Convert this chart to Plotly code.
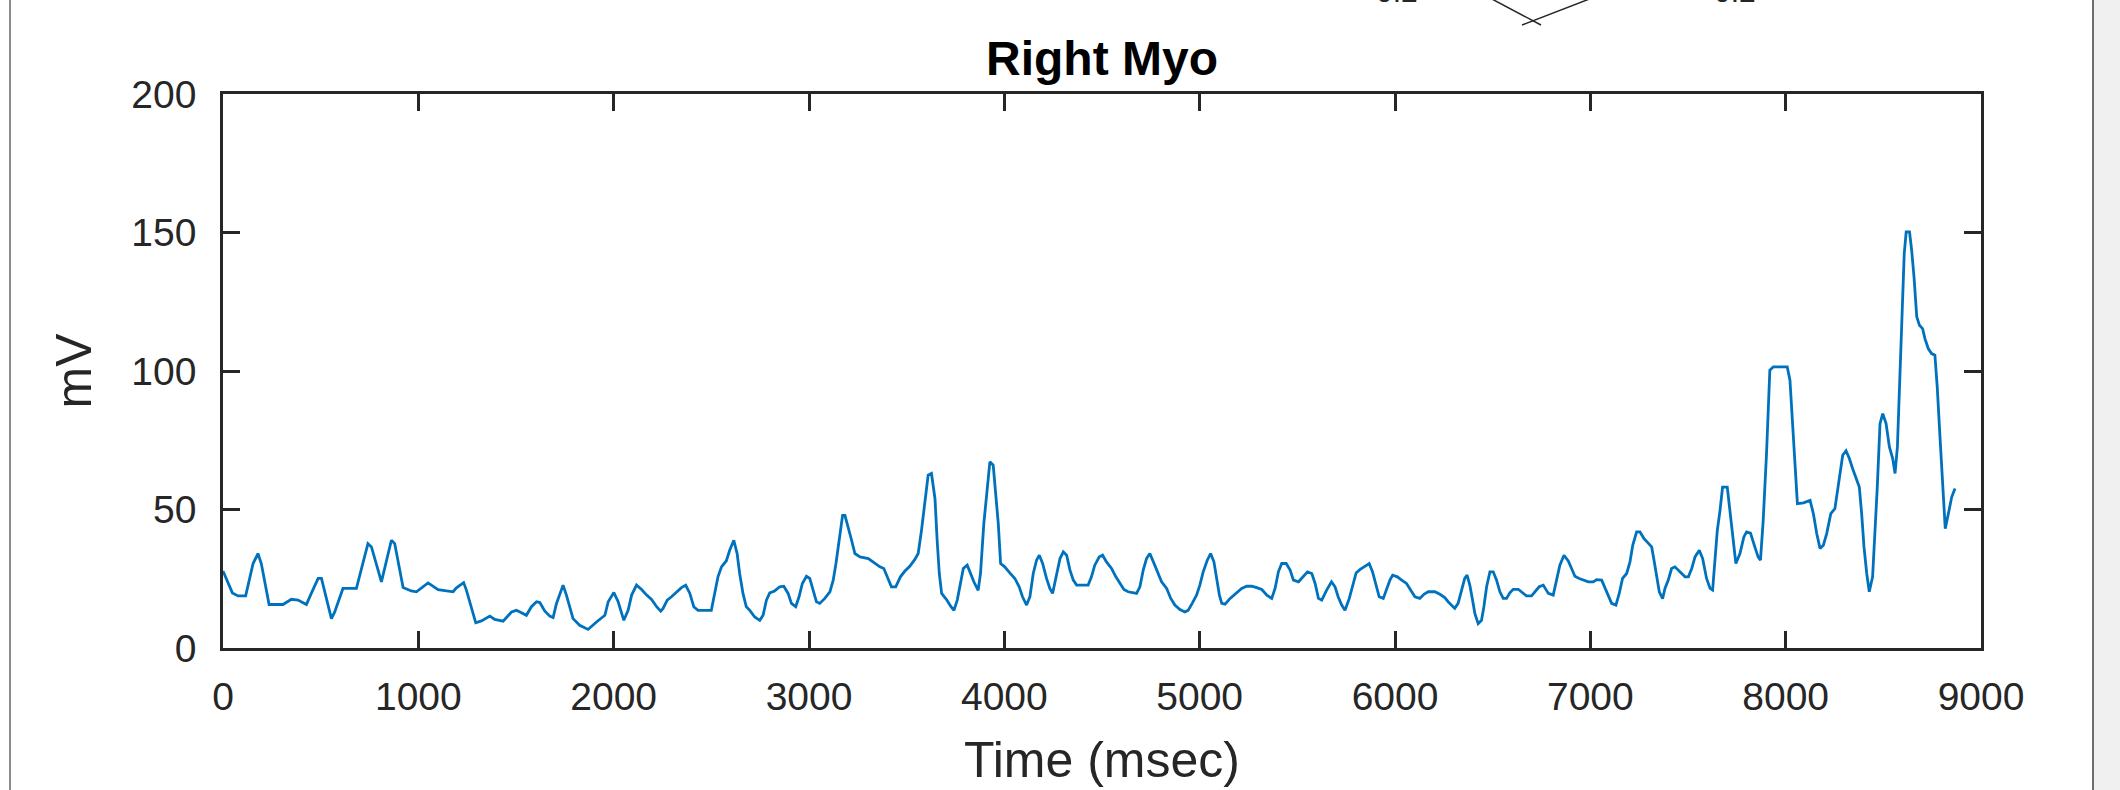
import plotly.graph_objects as go

# ---- data (time in msec, amplitude in mV) ----
time_ms = [
    0, 48, 77, 116, 154, 179, 196, 236, 307, 350, 384, 427, 452, 487, 504, 555, 572, 614, 683, 742,
    760, 811, 862, 879, 922, 964, 990, 1050, 1101, 1178, 1195, 1215, 1232, 1246, 1266, 1280, 1294, 1323,
    1366, 1391, 1434, 1477, 1502, 1528, 1553, 1579, 1605, 1622, 1647, 1673, 1690, 1707, 1721, 1741,
    1758, 1775, 1792, 1826, 1869, 1912, 1955, 1972, 2001, 2023, 2052, 2074, 2092, 2117, 2143, 2169,
    2194, 2220, 2241, 2253, 2274, 2296, 2322, 2347, 2369, 2390, 2410, 2432, 2500, 2517, 2534, 2552,
    2577, 2594, 2615, 2632, 2645, 2662, 2679, 2697, 2722, 2748, 2765, 2782, 2799, 2824, 2850, 2871,
    2893, 2910, 2932, 2949, 2966, 2987, 3004, 3021, 3038, 3055, 3081, 3107, 3124, 3138, 3155, 3172,
    3184, 3201, 3218, 3235, 3261, 3304, 3338, 3363, 3383, 3405, 3422, 3444, 3468, 3490, 3516, 3541,
    3559, 3576, 3593, 3610, 3627, 3645, 3656, 3667, 3679, 3704, 3725, 3742, 3759, 3772, 3790, 3810,
    3827, 3844, 3866, 3878, 3895, 3912, 3926, 3943, 3957, 3969, 3981, 4002, 4028, 4054, 4076, 4093,
    4114, 4131, 4148, 4165, 4179, 4196, 4216, 4233, 4247, 4264, 4285, 4302, 4319, 4336, 4353, 4370,
    4429, 4446, 4463, 4486, 4503, 4523, 4549, 4571, 4592, 4612, 4634, 4677, 4694, 4711, 4728, 4745,
    4763, 4783, 4805, 4831, 4852, 4873, 4899, 4924, 4941, 4963, 4984, 5001, 5018, 5039, 5056, 5073,
    5087, 5101, 5113, 5130, 5156, 5190, 5215, 5241, 5267, 5292, 5318, 5344, 5369, 5386, 5403, 5420,
    5443, 5463, 5480, 5506, 5531, 5552, 5574, 5591, 5608, 5625, 5650, 5675, 5693, 5709, 5727, 5744,
    5766, 5783, 5801, 5820, 5846, 5868, 5885, 5902, 5919, 5940, 5957, 5974, 5988, 6012, 6034, 6059,
    6080, 6102, 6127, 6148, 6170, 6204, 6230, 6255, 6272, 6289, 6306, 6323, 6340, 6357, 6369, 6383,
    6397, 6409, 6426, 6443, 6455, 6469, 6486, 6503, 6520, 6537, 6554, 6571, 6588, 6605, 6631, 6648,
    6673, 6699, 6716, 6738, 6759, 6785, 6810, 6827, 6844, 6865, 6887, 6904, 6921, 6943, 6964, 6990,
    7015, 7032, 7058, 7075, 7092, 7109, 7131, 7148, 7165, 7186, 7203, 7217, 7237, 7254, 7275, 7297,
    7314, 7326, 7340, 7353, 7370, 7382, 7399, 7416, 7433, 7459, 7485, 7502, 7519, 7536, 7558, 7575,
    7595, 7613, 7626, 7638, 7650, 7664, 7677, 7701, 7715, 7728, 7745, 7766, 7786, 7800, 7820, 7842,
    7859, 7871, 7885, 7902, 7919, 7937, 8008, 8022, 8036, 8048, 8060, 8091, 8125, 8142, 8159, 8176,
    8193, 8210, 8231, 8252, 8269, 8292, 8309, 8326, 8343, 8363, 8377, 8389, 8401, 8415, 8428, 8445,
    8457, 8469, 8483, 8497, 8514, 8531, 8548, 8560, 8572, 8583, 8595, 8607, 8617, 8634, 8645, 8657,
    8671, 8685, 8701, 8713, 8730, 8747, 8764, 8776, 8790, 8804, 8817, 8833, 8850, 8867,
]
amplitude_mv = [
    27.8, 19.9, 18.8, 18.8, 30.5, 34.1, 30.5, 15.7, 15.7, 17.6, 17.3, 15.7, 19.7, 25.1, 25.1, 10.6, 13.0, 21.5, 21.5, 37.7,
    36.5, 23.9, 38.9, 37.7, 21.8, 20.6, 20.3, 23.5, 21.1, 20.3, 21.7, 22.7, 23.6, 20.9, 16.3, 13.0, 9.1, 9.8,
    11.5, 10.3, 9.7, 13.0, 13.6, 12.7, 11.8, 14.9, 16.7, 16.4, 13.4, 11.5, 11.0, 16.0, 18.7, 22.7,
    19.1, 14.9, 10.6, 8.2, 6.7, 9.4, 11.8, 16.7, 20.0, 16.7, 10.0, 13.6, 19.1, 22.7, 21.1, 19.1,
    17.5, 14.9, 13.3, 14.3, 17.3, 18.5, 20.3, 21.8, 22.7, 19.7, 14.9, 13.6, 13.6, 19.7, 25.7, 29.3,
    31.5, 35.3, 38.9, 34.1, 26.9, 19.7, 14.9, 13.6, 11.2, 10.0, 11.8, 17.3, 19.9, 20.6, 22.1, 22.3,
    19.7, 16.1, 14.9, 18.5, 23.3, 25.9, 25.1, 20.9, 16.7, 16.1, 17.9, 20.3, 24.5, 30.5, 38.9, 47.9,
    47.9, 43.7, 38.9, 34.1, 32.9, 32.3, 30.7, 29.3, 28.7, 24.7, 22.1, 22.1, 25.7, 27.7, 29.5, 31.9,
    34.1, 42.5, 52.1, 62.4, 63.0, 53.9, 38.9, 26.9, 19.7, 17.5, 15.1, 13.6, 17.3, 22.7, 28.7, 29.9,
    26.9, 23.9, 20.8, 26.9, 44.9, 58.2, 67.2, 66.0, 55.7, 44.9, 30.5, 29.3, 27.1, 25.1, 22.1, 18.5,
    15.5, 18.5, 26.9, 31.7, 33.5, 30.5, 25.1, 21.5, 19.7, 25.7, 32.3, 34.7, 33.5, 28.1, 24.5, 22.7,
    22.7, 25.7, 29.9, 32.9, 33.5, 31.1, 28.7, 25.7, 23.3, 21.1, 20.3, 19.7, 22.1, 28.1, 32.3, 34.1,
    31.1, 27.5, 23.9, 21.5, 17.9, 15.5, 13.9, 13.0, 13.6, 16.3, 19.1, 22.7, 27.5, 31.7, 34.1, 31.1,
    25.7, 19.1, 16.1, 15.8, 17.9, 19.9, 21.5, 22.3, 22.3, 21.8, 21.1, 19.1, 17.9, 21.5, 27.5, 30.5,
    30.5, 28.1, 24.5, 23.9, 25.9, 27.5, 26.9, 23.3, 17.9, 17.3, 20.9, 23.9, 22.1, 18.5, 15.5, 13.6,
    17.9, 22.7, 27.1, 28.3, 29.5, 30.5, 27.5, 22.7, 18.5, 17.9, 21.5, 24.5, 26.3, 25.7, 24.5, 23.3,
    20.9, 18.5, 17.9, 19.4, 20.3, 20.3, 19.4, 18.2, 16.7, 15.5, 14.3, 16.1, 20.3, 25.1, 26.3, 22.7,
    17.3, 12.4, 8.8, 10.0, 14.9, 22.1, 27.5, 27.5, 24.5, 20.3, 17.9, 17.9, 19.9, 21.2, 21.2, 20.3,
    18.8, 18.8, 20.3, 22.1, 22.7, 19.7, 19.1, 25.1, 29.9, 33.5, 31.4, 28.7, 25.9, 25.1, 24.5, 23.9,
    23.9, 24.7, 24.5, 21.5, 18.5, 16.1, 15.5, 19.7, 25.1, 26.9, 31.1, 37.1, 41.9, 41.9, 39.5, 37.7,
    36.5, 31.7, 25.7, 20.3, 17.8, 21.5, 24.5, 28.7, 29.3, 27.5, 25.7, 25.7, 28.7, 32.9, 35.3, 32.3,
    25.1, 21.5, 20.9, 31.7, 42.5, 49.7, 58.1, 58.1, 49.7, 40.1, 30.5, 34.1, 40.1, 41.9, 41.5, 36.5,
    32.9, 31.7, 46.1, 70.2, 100.3, 101.5, 101.5, 96.7, 79.8, 64.2, 52.1, 52.4, 53.3, 48.5, 41.3, 35.9,
    37.1, 41.3, 48.5, 50.3, 59.3, 69.6, 71.2, 68.4, 64.7, 61.1, 58.1, 48.5, 36.5, 26.9, 20.3, 25.7,
    40.1, 58.1, 81.0, 84.6, 81.0, 72.6, 68.4, 63.0, 72.6, 94.2, 120.7, 142.4, 150.2, 150.2, 143.6, 134.0,
    119.6, 116.5, 115.3, 111.7, 108.1, 106.3, 105.7, 94.2, 76.2, 58.1, 43.1, 48.5, 54.5, 57.6,
]

x_ticks = [0, 1000, 2000, 3000, 4000, 5000, 6000, 7000, 8000, 9000]
y_ticks = [0, 50, 100, 150, 200]

title_text = "Right Myo"
x_label = "Time (msec)"
y_label = "mV"
top_fragment_labels = ["0.2", "0.2"]

# ---- geometry ----
W, H = 2120, 790
L, R, T, B = 223, 1981, 94, 648
FONT = "Liberation Sans, Arial, Helvetica, sans-serif"
AX = "#262626"


def px(xp):
    return (xp - L) / (R - L)


def py(yp):
    return (B - yp) / (B - T)


fig = go.Figure()
fig.add_trace(go.Scatter(
    x=time_ms, y=amplitude_mv, mode="lines",
    line=dict(color="#0072BD", width=2.8),
    showlegend=False, hoverinfo="x+y",
))

axis_common = dict(
    showline=True, linecolor=AX, linewidth=2.5, mirror="ticks",
    ticks="inside", ticklen=17, tickwidth=2.5, tickcolor=AX,
    showgrid=False, zeroline=False,
    tickfont=dict(family=FONT, size=39, color=AX),
)

fig.update_layout(
    width=W, height=H, autosize=False,
    margin=dict(l=L, r=W - R, t=T, b=H - B, pad=0),
    paper_bgcolor="white", plot_bgcolor="white",
    title=dict(text="<b>" + title_text + "</b>", x=(L + R) / 2 / W, xanchor="center",
               y=1 - 58 / H, yanchor="middle", yref="container",
               font=dict(family=FONT, size=48, color="black")),
    xaxis=dict(range=[0, 9000], tickvals=x_ticks, ticktext=[str(v) for v in x_ticks],
               ticklabelstandoff=12,
               title=dict(text=x_label, standoff=26, font=dict(family=FONT, size=50, color=AX)),
               **axis_common),
    yaxis=dict(range=[0, 200], tickvals=y_ticks, ticktext=[str(v) for v in y_ticks],
               ticklabelstandoff=16,
               title=dict(text=y_label, standoff=24, font=dict(family=FONT, size=50, color=AX)),
               **axis_common),
)

# window frame of the surrounding figure
shapes = [
    dict(type="line", xref="paper", yref="paper", x0=px(10), x1=px(10), y0=py(0), y1=py(H),
         line=dict(color="#8c8c8c", width=2)),
    dict(type="rect", xref="paper", yref="paper", x0=px(2093), x1=px(W + 5), y0=py(-5), y1=py(H + 5),
         fillcolor="#f0f0f0", line=dict(width=0)),
    dict(type="line", xref="paper", yref="paper", x0=px(2093), x1=px(2093), y0=py(0), y1=py(H),
         line=dict(color="#6e6e6e", width=2)),
    # fragment of the plot above (cut off at the top edge)
    dict(type="line", xref="paper", yref="paper", x0=px(1490), x1=px(1541), y0=py(-2), y1=py(25),
         line=dict(color=AX, width=1.5)),
    dict(type="line", xref="paper", yref="paper", x0=px(1592), x1=px(1522), y0=py(-2), y1=py(25),
         line=dict(color=AX, width=1.5)),
]
fig.update_layout(shapes=shapes)

for lbl, xc in zip(top_fragment_labels, [1397, 1735]):
    fig.add_annotation(text=lbl, xref="paper", yref="paper", x=px(xc), y=py(10),
                       xanchor="center", yanchor="bottom", showarrow=False,
                       font=dict(family=FONT, size=30, color=AX))

fig.write_html("out.html")
